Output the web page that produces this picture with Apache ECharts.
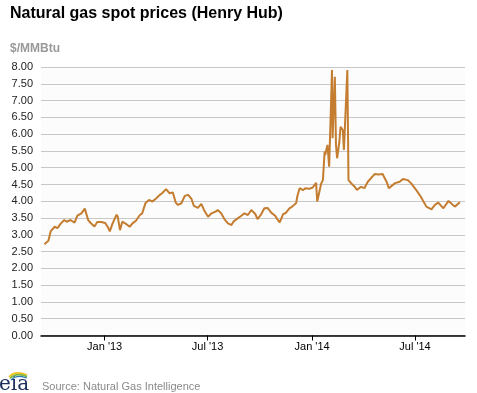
<!DOCTYPE html>
<html>
<head>
<meta charset="utf-8">
<script src="https://cdn.jsdelivr.net/npm/echarts@6/dist/echarts.min.js"></script>
<style>
html,body{margin:0;padding:0;background:#fff;}
#chart{width:477px;height:393px;}
</style>
</head>
<body>
<div id="chart"></div>
<script>
// ---- data ----
const dates = [
'2012-09-17','2012-09-24','2012-09-28','2012-10-05','2012-10-10','2012-10-16','2012-10-22','2012-10-26',
'2012-11-02','2012-11-09','2012-11-14','2012-11-21','2012-11-27','2012-12-03','2012-12-07','2012-12-14',
'2012-12-19','2012-12-26','2013-01-02','2013-01-07','2013-01-10','2013-01-15','2013-01-22','2013-01-24',
'2013-01-28','2013-02-01','2013-02-08','2013-02-14','2013-02-19','2013-02-25','2013-03-04','2013-03-08',
'2013-03-14','2013-03-20','2013-03-26','2013-04-02','2013-04-08','2013-04-12','2013-04-19','2013-04-25',
'2013-05-01','2013-05-06','2013-05-10','2013-05-16','2013-05-22','2013-05-28','2013-06-03','2013-06-07',
'2013-06-14','2013-06-20','2013-06-26','2013-07-02','2013-07-08','2013-07-15','2013-07-19','2013-07-25',
'2013-07-31','2013-08-06','2013-08-12','2013-08-16','2013-08-23','2013-08-29','2013-09-04','2013-09-10',
'2013-09-16','2013-09-23','2013-09-27','2013-10-03','2013-10-09','2013-10-15','2013-10-21','2013-10-28',
'2013-11-01','2013-11-05','2013-11-11','2013-11-15','2013-11-22','2013-11-27','2013-12-04','2013-12-06',
'2013-12-10','2013-12-16','2013-12-20','2013-12-27','2014-01-02','2014-01-08','2014-01-10','2014-01-17',
'2014-01-20','2014-01-23','2014-01-24','2014-01-28','2014-01-31','2014-02-03','2014-02-05','2014-02-06',
'2014-02-10','2014-02-12','2014-02-14','2014-02-18','2014-02-20','2014-02-24','2014-02-26','2014-03-04',
'2014-03-06','2014-03-11','2014-03-17','2014-03-21','2014-03-28','2014-04-03','2014-04-09','2014-04-11',
'2014-04-21','2014-04-28','2014-05-05','2014-05-12','2014-05-16','2014-05-27','2014-06-04','2014-06-10',
'2014-06-18','2014-06-24','2014-07-03','2014-07-11','2014-07-21','2014-07-30','2014-08-05','2014-08-11',
'2014-08-20','2014-08-29','2014-09-09','2014-09-12','2014-09-18'
];
const prices = [
2.72,2.82,3.10,3.24,3.20,3.34,3.44,3.39,
3.44,3.36,3.57,3.64,3.78,3.44,3.36,3.25,
3.38,3.38,3.35,3.22,3.10,3.34,3.60,3.54,
3.14,3.39,3.32,3.24,3.34,3.42,3.59,3.64,
3.95,4.04,3.99,4.09,4.19,4.24,4.36,4.24,
4.26,3.96,3.89,3.94,4.16,4.19,4.06,3.86,
3.80,3.92,3.70,3.54,3.64,3.69,3.74,3.64,
3.46,3.34,3.29,3.40,3.49,3.56,3.64,3.59,
3.74,3.62,3.47,3.60,3.79,3.80,3.66,3.57,
3.46,3.37,3.62,3.64,3.79,3.84,3.95,4.15,
4.39,4.33,4.39,4.37,4.41,4.55,3.99,4.53,
4.63,5.48,5.38,5.68,5.03,5.08,7.91,5.88,
7.71,5.68,5.28,5.78,6.22,6.12,5.53,7.91,
4.63,4.53,4.43,4.34,4.43,4.39,4.58,4.63,
4.81,4.80,4.81,4.58,4.39,4.54,4.58,4.66,
4.63,4.54,4.34,4.14,3.84,3.76,3.89,3.96,
3.79,4.01,3.84,3.84,3.97
];
const xTickDates = ['2013-01-01','2013-07-01','2014-01-01','2014-07-01'];
const xTickLabels = ["Jan '13","Jul '13","Jan '14","Jul '14"];
const xMin = '2012-09-11';
const xMax = '2014-09-27';
const yMin = 0, yMax = 8, yStep = 0.5;

const toTs = s => { const p = s.split('-').map(Number); return Date.UTC(p[0], p[1]-1, p[2]); };
const tickTs = xTickDates.map(toTs);
const seriesData = dates.map((d, i) => [toTs(d), prices[i]]);

const chart = echarts.init(document.getElementById('chart'), null, {renderer: 'canvas'});
chart.setOption({
  backgroundColor: '#ffffff',
  animation: false,
  title: [{
    text: 'Natural gas spot prices (Henry Hub)',
    left: 5, top: 1,
    textStyle: {fontFamily: 'Liberation Sans, Arial, sans-serif', fontSize: 16, fontWeight: 'bold', color: '#000'}
  }, {
    text: '$/MMBtu',
    left: 5, top: 38,
    textStyle: {fontFamily: 'Liberation Sans, Arial, sans-serif', fontSize: 12, fontWeight: 'bold', color: '#999'}
  }, {
    text: 'Source: Natural Gas Intelligence',
    left: 37, top: 376,
    textStyle: {fontFamily: 'Liberation Sans, Arial, sans-serif', fontSize: 11, fontWeight: 'normal', color: '#8a8a8a'}
  }],
  grid: {left: 41, right: 12, top: 67, bottom: 57.5, show: true, backgroundColor: '#fcfcfc', borderWidth: 0},
  xAxis: {
    type: 'value',
    min: toTs(xMin), max: toTs(xMax),
    axisLine: {show: true, lineStyle: {color: '#000', width: 1.5}},
    axisTick: {show: true, customValues: tickTs, length: 5, lineStyle: {color: '#000', width: 1}},
    axisLabel: {
      customValues: tickTs,
      margin: 6,
      fontFamily: 'Liberation Sans, Arial, sans-serif', fontSize: 11, color: '#000',
      formatter: function (v) {
        let best = 0, bd = Infinity;
        tickTs.forEach((t, i) => { const dd = Math.abs(t - v); if (dd < bd) { bd = dd; best = i; } });
        return xTickLabels[best];
      }
    },
    splitLine: {show: false}
  },
  yAxis: {
    type: 'value',
    min: yMin, max: yMax, interval: yStep,
    axisLine: {show: false},
    axisTick: {show: false},
    axisLabel: {
      margin: 8,
      fontFamily: 'Liberation Sans, Arial, sans-serif', fontSize: 11, color: '#222',
      formatter: v => v.toFixed(2)
    },
    splitLine: {show: true, lineStyle: {color: '#c8c8c8', width: 1}}
  },
  series: [{
    type: 'line',
    data: seriesData,
    showSymbol: false,
    lineStyle: {color: '#c47d30', width: 2},
    itemStyle: {color: '#c47d30'}
  }],
  graphic: [
    {type: 'text', left: -1, top: 375,
      style: {text: 'eia', font: '20px "DejaVu Serif", serif', fill: '#1c2e5e'}},
    {type: 'bezierCurve', shape: {x1: 9, y1: 377, cpx1: 15, cpy1: 370, x2: 27, y2: 375},
      style: {stroke: '#f2c21b', lineWidth: 1.6, fill: null}},
    {type: 'bezierCurve', shape: {x1: 10, y1: 378.5, cpx1: 16, cpy1: 372, x2: 27, y2: 376.5},
      style: {stroke: '#7bb545', lineWidth: 1.6, fill: null}},
    {type: 'bezierCurve', shape: {x1: 11, y1: 380, cpx1: 17, cpy1: 374, x2: 27, y2: 378},
      style: {stroke: '#2b78b8', lineWidth: 1.2, fill: null}}
  ]
});
</script>
</body>
</html>
